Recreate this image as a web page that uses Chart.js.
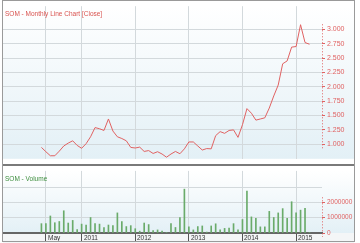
<!DOCTYPE html>
<html>
<head>
<meta charset="utf-8">
<script src="https://cdn.jsdelivr.net/npm/chart.js@4.4.0/dist/chart.umd.min.js"></script>
<style>
  html, body { margin: 0; padding: 0; background: #fff; }
  #wrap { position: relative; width: 360px; height: 243px; overflow: hidden; }
  canvas { position: absolute; left: 0; }
  #sep { position: absolute; left: 3px; top: 164px; width: 351px; height: 2px; background: #7a7a7a; }
  #frame { position: absolute; left: 2px; top: 0; width: 351px; height: 240px; border: 1px solid #9a9a9a; pointer-events: none; }
</style>
</head>
<body>
<div id="wrap">
  <canvas id="price" width="360" height="165" style="top:0"></canvas>
  <canvas id="vol" width="360" height="78" style="top:165px"></canvas>
  <div id="sep"></div>
  <div id="frame"></div>
</div>
<script>
// monthly data, Apr 2010 .. Apr 2015
var months = [
  'Apr 10','May 10','Jun 10','Jul 10','Aug 10','Sep 10','Oct 10','Nov 10','Dec 10',
  'Jan 11','Feb 11','Mar 11','Apr 11','May 11','Jun 11','Jul 11','Aug 11','Sep 11','Oct 11','Nov 11','Dec 11',
  'Jan 12','Feb 12','Mar 12','Apr 12','May 12','Jun 12','Jul 12','Aug 12','Sep 12','Oct 12','Nov 12','Dec 12',
  'Jan 13','Feb 13','Mar 13','Apr 13','May 13','Jun 13','Jul 13','Aug 13','Sep 13','Oct 13','Nov 13','Dec 13',
  'Jan 14','Feb 14','Mar 14','Apr 14','May 14','Jun 14','Jul 14','Aug 14','Sep 14','Oct 14','Nov 14','Dec 14',
  'Jan 15','Feb 15','Mar 15','Apr 15'
];
var closes = [
  0.945, 0.87, 0.80, 0.80, 0.88, 0.97, 1.02, 1.06, 0.98,
  0.93, 1.01, 1.13, 1.29, 1.27, 1.24, 1.44, 1.23, 1.13, 1.10, 1.06, 0.945,
  0.935, 0.95, 0.875, 0.89, 0.84, 0.87, 0.83, 0.775, 0.83, 0.875, 0.835, 0.92,
  1.04, 1.04, 0.97, 0.90, 0.925, 0.92, 1.15, 1.22, 1.19, 1.24, 1.25, 1.12,
  1.34, 1.62, 1.54, 1.42, 1.44, 1.46, 1.63, 1.84, 2.03, 2.40, 2.45, 2.69,
  2.70, 3.08, 2.77, 2.74
];
var volumes = [
  610000, 610000, 1110000, 670000, 750000, 1450000, 650000, 820000, 220000,
  580000, 520000, 1010000, 610000, 580000, 360000, 520000, 480000, 1310000, 750000, 420000, 480000,
  280000, 120000, 650000, 550000, 160000, 200000, 120000, 30000, 610000, 360000, 1010000, 2860000,
  400000, 200000, 420000, 460000, 60000, 460000, 600000, 200000, 300000, 320000, 610000, 200000,
  880000, 2740000, 1050000, 950000, 400000, 400000, 1410000, 1010000, 1310000, 1590000, 950000, 2040000,
  1310000, 1490000, 1610000, 30000
];
var xTickMonths = [1, 9, 21, 33, 45, 57];
var xTickLabels = ['May', '2011', '2012', '2013', '2014', '2015'];
var priceTicks = [1, 1.25, 1.5, 1.75, 2, 2.25, 2.5, 2.75, 3];
var volumeTicks = [0, 1000000, 2000000, 3000000];

var X_MIN = -8.6, X_MAX = 62.8;
var FONT = '"Liberation Sans", Arial, sans-serif';
var RED = '#e06262';
var GRID = '#d3d9dc';

function bgPlugin(title, titleColor, labelBand) {
  return {
    id: 'panel',
    beforeDraw: function (chart) {
      var ctx = chart.ctx, a = chart.chartArea;
      var g = ctx.createLinearGradient(0, a.top, 0, a.bottom);
      g.addColorStop(0, '#ffffff');
      g.addColorStop(1, '#e3f0f6');
      ctx.save();
      ctx.fillStyle = g;
      ctx.fillRect(3, a.top, 351, a.bottom - a.top);
      if (labelBand) {
        ctx.fillStyle = '#f4f6f7';
        ctx.fillRect(3, a.bottom, 351, chart.height - a.bottom);
      }
      ctx.restore();
    },
    afterDraw: function (chart) {
      var ctx = chart.ctx, a = chart.chartArea, ys = chart.scales.y, xs = chart.scales.x;
      var t = ys.ticks.filter(function (k) { return ys.options.ticks.callback(k.value) !== ''; });
      var top = ys.getPixelForValue(t[t.length - 1].value) - 5;
      var bot = ys.getPixelForValue(t[0].value) + 4;
      ctx.save();
      ctx.strokeStyle = RED;
      ctx.lineWidth = 1;
      ctx.setLineDash([1, 2]);
      ctx.beginPath();
      ctx.moveTo(a.right + 0.5, top);
      ctx.lineTo(a.right + 0.5, bot);
      ctx.stroke();
      ctx.setLineDash([]);
      ctx.fillStyle = titleColor;
      ctx.font = '6.5px ' + FONT;
      ctx.textBaseline = 'middle';
      ctx.textAlign = 'left';
      ctx.fillText(title, 5, a.top + 8);
      if (labelBand) {
        ctx.fillStyle = '#333';
        ctx.font = '6.5px ' + FONT;
        xTickMonths.forEach(function (m, i) {
          ctx.fillText(xTickLabels[i], Math.round(xs.getPixelForValue(m)) + 2, a.bottom + 5);
        });
      }
      ctx.restore();
    }
  };
}

function xScale(showLabels) {
  return {
    type: 'linear',
    min: X_MIN,
    max: X_MAX,
    offset: false,
    afterBuildTicks: function (s) { s.ticks = xTickMonths.map(function (v) { return { value: v }; }); },
    afterFit: function (s) { s.height = showLabels ? 10 : 0; },
    border: showLabels ? { display: true, color: '#666', width: 2 } : { display: false },
    grid: { offset: false, color: GRID, drawTicks: showLabels, tickLength: 8, tickColor: '#555' },
    ticks: { display: false }
  };
}

new Chart(document.getElementById('price'), {
  type: 'line',
  data: {
    labels: months,
    datasets: [{
      data: closes.map(function (v, i) { return { x: i, y: v }; }),
      borderColor: RED,
      borderWidth: 1,
      pointRadius: 0,
      tension: 0
    }]
  },
  options: {
    responsive: false,
    animation: false,
    layout: { padding: { left: 3, top: 0, right: 0, bottom: 0 } },
    plugins: { legend: { display: false }, tooltip: { enabled: false } },
    scales: {
      x: xScale(false),
      y: {
        position: 'right',
        min: 0.747,
        max: 3.402,
        afterBuildTicks: function (s) { s.ticks = priceTicks.map(function (v) { return { value: v }; }); },
        afterFit: function (s) { s.width = 38; },
        border: { display: false },
        grid: { color: GRID, tickColor: RED, tickLength: 3 },
        ticks: {
          padding: 2,
          color: RED,
          font: { family: FONT, size: 7 },
          callback: function (v) { return v.toFixed(3); }
        }
      }
    }
  },
  plugins: [bgPlugin('SOM - Monthly Line Chart [Close]', '#d9534f', false)]
});

new Chart(document.getElementById('vol'), {
  type: 'bar',
  data: {
    labels: months,
    datasets: [{
      data: volumes.map(function (v, i) { return { x: i, y: v }; }),
      backgroundColor: '#6aab6a',
      barThickness: 1
    }]
  },
  options: {
    responsive: false,
    animation: false,
    layout: { padding: { left: 3, top: 0, right: 0, bottom: 0 } },
    plugins: { legend: { display: false }, tooltip: { enabled: false } },
    scales: {
      x: xScale(true),
      y: {
        position: 'right',
        min: 0,
        max: 4050000,
        afterBuildTicks: function (s) { s.ticks = volumeTicks.map(function (v) { return { value: v }; }); },
        afterFit: function (s) { s.width = 38; },
        border: { display: false },
        grid: {
          color: GRID,
          tickLength: 3,
          tickColor: function (c) { return c.tick && c.tick.value > 2000000 ? 'rgba(0,0,0,0)' : RED; }
        },
        ticks: {
          padding: 2,
          color: RED,
          font: { family: FONT, size: 6.5 },
          callback: function (v) { return v > 2000000 ? '' : String(v); }
        }
      }
    }
  },
  plugins: [bgPlugin('SOM - Volume', '#3f8f3f', true)]
});
</script>
</body>
</html>
